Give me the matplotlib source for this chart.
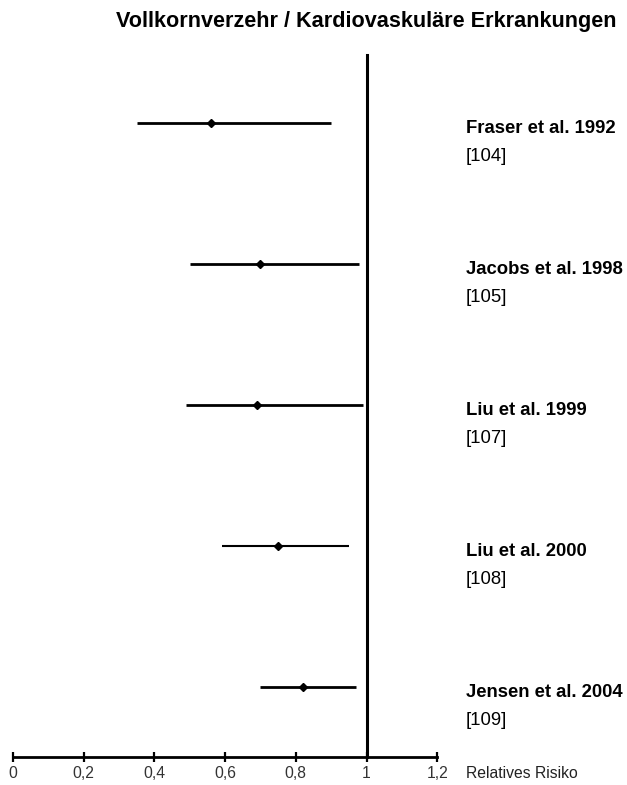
import matplotlib
matplotlib.use("Agg")
import matplotlib.pyplot as plt

plt.rcParams['font.family'] = ['Liberation Sans', 'DejaVu Sans']

studies = ["Fraser et al. 1992", "Jacobs et al. 1998", "Liu et al. 1999", "Liu et al. 2000", "Jensen et al. 2004"]
refs = ["[104]", "[105]", "[107]", "[108]", "[109]"]
rr = [0.56, 0.70, 0.69, 0.75, 0.82]
lower = [0.35, 0.50, 0.49, 0.59, 0.70]
upper = [0.90, 0.98, 0.99, 0.95, 0.97]
line_w = [2.0, 2.0, 2.0, 1.5, 2.0]
ticks = [0, 0.2, 0.4, 0.6, 0.8, 1.0, 1.2]
tick_labels = ["0", "0,2", "0,4", "0,6", "0,8", "1", "1,2"]
title = "Vollkornverzehr / Kardiovaskuläre Erkrankungen"
xlabel = "Relatives Risiko"

fig = plt.figure(figsize=(6.27, 7.85), dpi=100)
ax = fig.add_axes([0, 0, 1, 1])
ax.set_axis_off()
# pixel mapping: x=0 -> 13px, x=1 -> 366.5px ; row i -> 123 + 141*i px
ppu = 353.5
ax.set_xlim(-13 / ppu, (627 - 13) / ppu)
ax.set_ylim((785 - 123) / 141, -123 / 141)

label_x = (466 - 13) / ppu
axis_y = (757 - 123) / 141
for i, (m, lo, hi, lw) in enumerate(zip(rr, lower, upper, line_w)):
    ax.plot([lo, hi], [i, i], color='black', lw=lw, solid_capstyle='butt')
    ax.plot([m], [i], marker='D', color='black', ms=4.5)
    ax.text(label_x, i + 0.04, studies[i], fontsize=13.3, fontweight='bold', va='center', ha='left')
    ax.text(label_x, i + 0.24, refs[i], fontsize=13.3, va='center', ha='left')

# reference line at RR = 1
ax.plot([1, 1], [(55 - 123) / 141, axis_y], color='black', lw=2.2)
# x axis
ax.plot([0, 1.2], [axis_y, axis_y], color='black', lw=2.0)
ax.plot(ticks, [axis_y] * len(ticks), ls='none', marker='|', ms=7, mew=1.6, color='black')
for t, lab in zip(ticks, tick_labels):
    ax.text(t, axis_y + 0.12, lab, fontsize=11.3, ha='center', va='center', color='#333333')
ax.text(label_x, axis_y + 0.12, xlabel, fontsize=11.3, ha='left', va='center', color='#222222')

ax.text(1.0, (21 - 123) / 141, title, fontsize=15.6, fontweight='bold', ha='center', va='center')

fig.savefig("out.png", dpi=100)
